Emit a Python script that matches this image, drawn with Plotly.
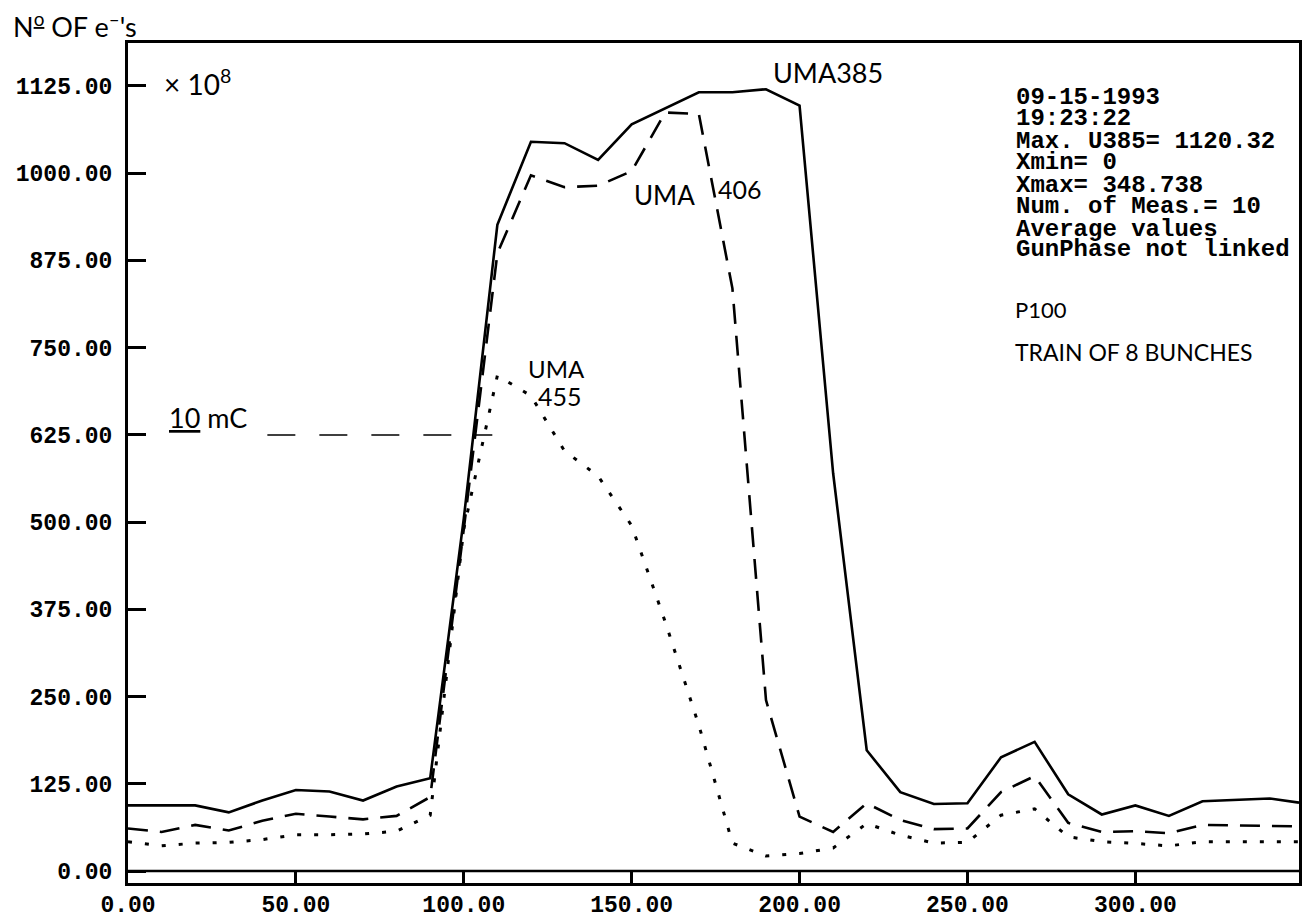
import plotly.graph_objects as go

# ---- data ----
x_pos = [0, 10, 20, 30, 40, 50, 60, 70, 80, 90, 100, 110, 120, 130, 140, 150, 160, 170,
         180, 190, 200, 210, 220, 230, 240, 250, 260, 270, 280, 290, 300, 310, 320, 330,
         340, 348.738]
uma385 = [94, 94, 94, 84, 101, 116, 114, 101, 121, 133, 505, 926, 1045, 1043, 1019, 1070,
          1093, 1116, 1116, 1120.32, 1097, 570, 173, 113, 96, 97, 163, 185, 110, 81, 94,
          79, 100, 102, 104, 98]
uma406 = [61, 56, 66, 58, 72, 82, 78, 74, 79, 106, 490, 885, 997, 980, 982, 1003, 1087,
          1085, 835, 245, 78, 56, 97, 73, 60, 61, 113, 136, 69, 56, 57, 54, 66, 65, 65, 64]
uma455 = [42, 36, 40, 41, 45, 52, 52, 53, 57, 80, 490, 710, 681, 602, 566, 495, 357, 209,
          40, 21.5, 25, 33, 68, 51.5, 40, 41, 80, 89, 49, 42, 39.5, 36, 42, 42, 42, 42]

ref_x = [41.5, 108.5]
ref_y = [625, 625]

x_ticks = [0, 50, 100, 150, 200, 250, 300]
x_tick_text = ["0.00", "50.00", "100.00", "150.00", "200.00", "250.00", "300.00"]
y_ticks = [0, 125, 250, 375, 500, 625, 750, 875, 1000, 1125]
y_tick_text = ["0.00", "125.00", "250.00", "375.00", "500.00", "625.00", "750.00",
               "875.00", "1000.00", "1125.00"]

info_lines = ["09-15-1993", "19:23:22", "Max. U385= 1120.32", "Xmin= 0", "Xmax= 348.738",
              "Num. of Meas.= 10", "Average values", "GunPhase not linked"]
info_y = [1109, 1078, 1046, 1015, 983, 952, 920, 890]

MONO = "Courier New, Liberation Mono, monospace"
HAND = "Lato, Open Sans, sans-serif"

fig = go.Figure()
fig.add_trace(go.Scatter(x=x_pos, y=uma385, mode="lines",
                         line=dict(color="black", width=2.6, dash="solid"), name="UMA385"))
fig.add_trace(go.Scatter(x=x_pos, y=uma406, mode="lines",
                         line=dict(color="black", width=2.6, dash="20px,12px"), name="UMA406"))
fig.add_trace(go.Scatter(x=x_pos, y=uma455, mode="lines",
                         line=dict(color="black", width=3, dash="4px,13px"), name="UMA455"))
fig.add_trace(go.Scatter(x=ref_x, y=ref_y, mode="lines",
                         line=dict(color="black", width=1.5, dash="28px,24px"), name="10 mC"))

# zero line inside the frame
fig.add_shape(type="line", xref="x", yref="y", x0=0, x1=348.738, y0=0, y1=0,
              line=dict(color="black", width=2.5))

ann = []
def hand(text, x, y, size, xanchor="left"):
    ann.append(dict(text=text, x=x, y=y, xref="x", yref="y", showarrow=False,
                    xanchor=xanchor, yanchor="middle",
                    font=dict(family=HAND, size=size, color="black")))

hand("× 10<sup>8</sup>", 10.0, 1130, 28)
hand("UMA385", 191.5, 1145, 27)
hand("UMA", 150, 969, 26)
hand("406", 175, 977, 25)
hand("UMA", 118.5, 720, 24)
hand("455", 121.5, 681, 25)
hand("<u>10</u> mC", 11.5, 650, 27)
hand("P100", 263.5, 804, 22)
hand("TRAIN OF 8 BUNCHES", 263.5, 744, 23)

for t, yy in zip(info_lines, info_y):
    ann.append(dict(text=t, x=263.8, y=yy, xref="x", yref="y", showarrow=False,
                    xanchor="left", yanchor="middle",
                    font=dict(family=MONO, size=24, color="black", weight="bold")))

ann.append(dict(text="N<sup><u>o</u></sup> OF e<sup>–</sup>'s", x=-0.1, y=1.021,
                xref="paper", yref="paper", showarrow=False, xanchor="left",
                yanchor="middle", font=dict(family=HAND, size=27, color="black")))

# the page body adds an 8px offset, so the figure is sized/margined to compensate
fig.update_layout(
    width=1302, height=915,
    margin=dict(l=120, r=11, t=35, b=40),
    paper_bgcolor="white", plot_bgcolor="white",
    showlegend=False,
    annotations=ann,
    xaxis=dict(range=[0, 348.738], showgrid=False, zeroline=False, automargin=False,
               showline=True, mirror=True, linecolor="black", linewidth=3,
               ticks="inside", ticklen=12, tickwidth=2.5, tickcolor="black",
               tickvals=x_ticks, ticktext=x_tick_text, ticklabelstandoff=-2,
               tickfont=dict(family=MONO, size=23, color="black", weight="bold")),
    yaxis=dict(range=[-17.2, 1186.6], showgrid=False, zeroline=False, automargin=False,
               showline=True, mirror=True, linecolor="black", linewidth=3,
               ticks="inside", ticklen=18, tickwidth=2.5, tickcolor="black",
               tickvals=y_ticks, ticktext=y_tick_text, ticklabelstandoff=8,
               tickfont=dict(family=MONO, size=23, color="black", weight="bold")),
)

fig.write_html("out.html")
